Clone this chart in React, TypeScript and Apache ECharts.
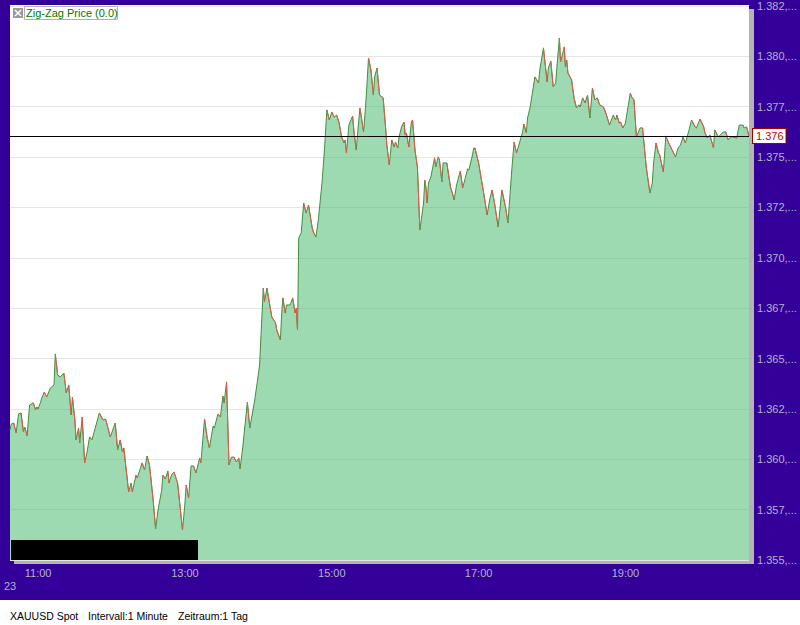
import React, { useEffect, useRef } from "react";
import * as echarts from "echarts";

// Zig-Zag pivots of XAUUSD Spot (1-minute interval)
const times: string[] = [
  "10:37","10:38","10:40","10:42","10:44","10:46","10:48","10:49","10:51","10:53","10:56","10:58","10:59",
  "11:00","11:02","11:03","11:05","11:07","11:10","11:12","11:13","11:14","11:16","11:18","11:21","11:23","11:25","11:27","11:28","11:30","11:31","11:33","11:34","11:36","11:38","11:40","11:42","11:44","11:50","11:53","11:55","11:56","11:59",
  "12:03","12:05","12:07","12:09","12:10","12:14","12:16","12:17","12:20","12:21","12:25","12:27","12:29","12:31","12:34","12:36","12:38","12:41","12:42","12:44","12:46","12:47","12:49","12:51","12:54","12:58",
  "13:00","13:01","13:03","13:05","13:07","13:09","13:12","13:13","13:16","13:18","13:20","13:23","13:24","13:27","13:29","13:31","13:32","13:34","13:36","13:38","13:40","13:42","13:44","13:45","13:47","13:51","13:53","13:57","13:59",
  "14:01","14:04","14:05","14:07","14:09","14:11","14:14","14:15","14:18","14:19","14:20","14:22","14:23","14:26","14:28","14:30","14:31","14:32","14:33","14:35","14:37","14:39","14:41","14:44","14:45","14:47","14:49","14:52","14:54","14:56","14:58",
  "15:00","15:02","15:04","15:06","15:08","15:10","15:11","15:12","15:14","15:17","15:18","15:20","15:21","15:23","15:26","15:28","15:30","15:32","15:34","15:35","15:37","15:38","15:39","15:42","15:44","15:45","15:47","15:49","15:51","15:52","15:54","15:55","15:57","15:59",
  "16:00","16:01","16:03","16:05","16:06","16:08","16:10","16:12","16:15","16:16","16:17","16:18","16:19","16:21","16:24","16:25","16:27","16:28","16:30","16:31","16:34","16:37","16:39","16:40","16:42","16:45","16:47","16:51","16:52","16:55","16:56","16:57",
  "17:00","17:04","17:07","17:09","17:11","17:13","17:16","17:19","17:22","17:24","17:27","17:29","17:31","17:36","17:37","17:39","17:40","17:42","17:45","17:46","17:49","17:50","17:53","17:56","17:57","17:59",
  "18:01","18:03","18:04","18:06","18:07","18:10","18:11","18:12","18:13","18:16","18:18","18:20","18:22","18:23","18:25","18:27","18:29","18:31","18:33","18:35","18:37","18:39","18:42","18:44","18:47","18:50","18:52","18:53","18:55","18:56","18:58",
  "19:00","19:02","19:04","19:05","19:07","19:09","19:12","19:14","19:17","19:20","19:22","19:23","19:25","19:27","19:28","19:31","19:33","19:35","19:37","19:39","19:41","19:43","19:45","19:47","19:49","19:52","19:54","19:57","19:58",
  "20:01","20:04","20:05","20:07","20:09","20:12","20:13","20:16","20:20","20:22","20:24","20:26","20:28","20:31","20:33","20:36","20:37","20:39","20:41",
];

const prices: number[] = [
  1361.45,1361.75,1361.80,1361.31,1362.25,1362.30,1361.36,1361.60,1361.16,1362.70,1362.80,1362.45,1362.60,
  1362.50,1362.84,1363.04,1363.34,1363.09,1363.54,1363.64,1363.69,1365.23,1364.18,1364.09,1364.28,1363.29,1363.69,1362.20,1363.09,1361.95,1360.96,1361.55,1360.81,1362.10,1359.82,1360.36,1361.11,1360.96,1362.30,1361.95,1362.00,1361.80,1361.11,
  1361.80,1360.46,1360.96,1360.36,1360.56,1358.38,1358.82,1358.38,1359.22,1359.07,1359.82,1359.47,1360.16,1359.72,1357.98,1356.54,1357.48,1358.48,1359.22,1359.02,1359.42,1358.82,1359.22,1359.37,1358.82,1356.49,
  1357.83,1358.72,1358.08,1359.67,1359.67,1359.32,1360.06,1359.82,1362.00,1361.11,1360.56,1361.65,1361.55,1362.25,1362.10,1363.14,1362.79,1363.84,1359.72,1360.11,1360.11,1359.87,1360.06,1359.52,1360.46,1362.84,1361.55,1362.94,1363.79,
  1364.68,1368.50,1367.81,1368.50,1367.76,1367.06,1366.77,1366.42,1365.92,1367.16,1368.01,1367.26,1367.66,1367.66,1368.01,1367.26,1367.51,1366.42,1370.99,1371.23,1372.72,1372.23,1372.62,1371.48,1371.28,1371.03,1371.88,1373.72,1375.35,1377.34,1376.84,
  1377.24,1376.99,1377.09,1376.69,1376.00,1375.70,1375.85,1375.20,1376.60,1377.04,1376.35,1375.35,1376.10,1377.44,1376.25,1377.84,1379.92,1379.33,1378.08,1378.98,1379.42,1378.73,1378.08,1377.94,1376.45,1375.60,1374.61,1375.85,1375.50,1375.75,1375.45,1376.00,1376.50,1376.74,
  1376.10,1376.20,1375.50,1376.74,1376.84,1375.35,1374.51,1371.38,1372.72,1373.86,1373.47,1372.72,1373.72,1374.01,1374.96,1374.51,1375.01,1374.86,1373.77,1374.71,1374.71,1373.52,1373.12,1372.87,1373.62,1374.31,1373.47,1374.41,1374.36,1375.11,1375.45,1375.45,
  1374.71,1373.27,1372.13,1372.87,1373.37,1372.72,1371.53,1373.37,1372.52,1371.73,1374.26,1375.75,1375.20,1376.25,1376.64,1376.20,1376.94,1377.44,1378.58,1378.98,1378.68,1379.32,1380.42,1378.73,1379.42,1379.77,
  1378.48,1378.68,1379.47,1380.91,1379.72,1380.47,1379.47,1379.82,1379.18,1378.83,1377.94,1377.44,1377.59,1377.49,1377.94,1377.69,1378.08,1376.94,1378.43,1377.84,1377.94,1377.59,1377.49,1377.19,1376.59,1377.09,1376.84,1377.09,1376.69,1376.74,1376.45,
  1376.69,1377.44,1378.18,1377.99,1377.84,1376.00,1376.45,1376.45,1374.51,1373.22,1373.72,1374.71,1375.70,1375.20,1375.11,1374.26,1376.05,1375.75,1375.50,1375.25,1375.01,1375.45,1375.60,1376.00,1375.70,1376.35,1376.84,1376.50,1376.45,
  1376.89,1376.50,1376.20,1375.95,1376.10,1375.45,1376.35,1376.00,1376.25,1376.25,1375.85,1376.00,1376.00,1375.95,1376.59,1376.59,1376.45,1376.50,1376.05,
];

const timeTicks: string[] = ["11:00", "13:00", "15:00", "17:00", "19:00"];
const axisStart = "10:37";
const axisEnd = "20:41";
const priceMin = 1355;
const priceMax = 1382.5;
const priceStep = 2.5;
const dayLabel = "23";
const legendText = "Zig-Zag Price (0.0)";
const footer: string[] = ["XAUUSD Spot", "Intervall:1 Minute", "Zeitraum:1 Tag"];

const toMin = (s: string) => {
  const [h, m] = s.split(":").map(Number);
  return h * 60 + m;
};
const fmtTime = (v: number) => {
  const h = Math.floor(v / 60);
  const m = Math.round(v % 60);
  return `${String(h).padStart(2, "0")}:${String(m).padStart(2, "0")}`;
};
const fmtThousands = (v: number) => {
  const f = Math.floor(v + 1e-9);
  return `${Math.floor(f / 1000)}.${String(f % 1000).padStart(3, "0")}`;
};

const FONT = "'Liberation Sans', Arial, sans-serif";
const LABEL = "#b4b4c8";
const PURPLE = "#330099";

export default function App() {
  const ref = useRef<HTMLDivElement>(null);
  useEffect(() => {
    if (!ref.current) return;
    const chart = echarts.init(ref.current, undefined, { renderer: "svg" });
    const pts = times.map((t, i) => [toMin(t), prices[i]]);
    const red: any[] = [];
    for (let i = 0; i < pts.length - 1; i++) {
      if (pts[i + 1][1] < pts[i][1]) {
        red.push(pts[i], pts[i + 1], [pts[i + 1][0], "-"]);
      }
    }
    const last = prices[prices.length - 1];
    chart.setOption({
      animation: false,
      backgroundColor: "#ffffff",
      textStyle: { fontFamily: FONT },
      grid: { left: 10, right: 51, top: 6, bottom: 65 },
      xAxis: {
        type: "value",
        min: toMin(axisStart),
        max: toMin(axisEnd),
        axisLine: { show: false },
        axisTick: { show: false },
        splitLine: { show: false },
        axisLabel: {
          customValues: timeTicks.map(toMin),
          formatter: (v: number) => fmtTime(v),
          color: LABEL,
          fontSize: 11,
          fontFamily: FONT,
          margin: 7,
        },
      },
      yAxis: {
        type: "value",
        position: "right",
        min: priceMin,
        max: priceMax,
        interval: priceStep,
        axisLine: { show: false },
        axisTick: { show: false },
        splitLine: { lineStyle: { color: "#e6e6e6", width: 1 } },
        axisLabel: {
          formatter: (v: number) => `${fmtThousands(v)},...`,
          color: LABEL,
          fontSize: 11,
          fontFamily: FONT,
          margin: 8,
        },
      },
      graphic: {
        elements: [
          { type: "rect", z: -100, shape: { x: 0, y: 0, width: 800, height: 600 }, style: { fill: PURPLE } },
          { type: "rect", z: -99, shape: { x: 14, y: 9, width: 740, height: 555 }, style: { fill: "#b4b4b4" } },
          { type: "rect", z: -98, shape: { x: 10, y: 5, width: 739, height: 555 }, style: { fill: "#ffffff" } },
          { type: "rect", z: 100, shape: { x: 11, y: 540, width: 187, height: 20 }, style: { fill: "#000000" } },
          { type: "rect", z: 100, shape: { x: 13, y: 8, width: 10, height: 10 }, style: { fill: "#9a9a9a" } },
          { type: "line", z: 101, shape: { x1: 15, y1: 10, x2: 21, y2: 16 }, style: { stroke: "#ffffff", lineWidth: 1.5 } },
          { type: "line", z: 101, shape: { x1: 21, y1: 10, x2: 15, y2: 16 }, style: { stroke: "#ffffff", lineWidth: 1.5 } },
          { type: "rect", z: 100, shape: { x: 24.5, y: 6.5, width: 93, height: 13 }, style: { fill: "#ffffff", stroke: "#b0b0b0", lineWidth: 1 } },
          { type: "text", z: 101, x: 26, y: 13, style: { text: legendText, fill: "#007800", font: `11px ${FONT}`, textVerticalAlign: "middle" } },
          { type: "text", z: 100, x: 4, y: 586, style: { text: dayLabel, fill: LABEL, font: `11px ${FONT}`, textVerticalAlign: "middle" } },
          { type: "text", z: 100, x: 10, y: 616, style: { text: footer[0], fill: "#000000", font: `10.5px ${FONT}`, textVerticalAlign: "middle" } },
          { type: "text", z: 100, x: 88, y: 616, style: { text: footer[1], fill: "#000000", font: `10.5px ${FONT}`, textVerticalAlign: "middle" } },
          { type: "text", z: 100, x: 178, y: 616, style: { text: footer[2], fill: "#000000", font: `10.5px ${FONT}`, textVerticalAlign: "middle" } },
        ],
      },
      series: [
        {
          type: "line",
          data: pts,
          showSymbol: false,
          symbol: "none",
          z: 2,
          lineStyle: { color: "#3f8f3f", width: 1 },
          areaStyle: { color: "rgba(60,180,100,0.5)", opacity: 1 },
          markLine: {
            silent: true,
            symbol: "none",
            data: [{ yAxis: last }],
            lineStyle: { color: "#000000", width: 1, type: "solid" },
            label: {
              position: "end",
              distance: 4,
              formatter: () => fmtThousands(last),
              backgroundColor: "#ffffff",
              borderColor: "#a00000",
              borderWidth: 1,
              padding: [2, 2, 1, 3],
              color: "#cc0000",
              fontSize: 11,
              fontFamily: FONT,
            },
            emphasis: { disabled: true },
          },
        },
        {
          type: "line",
          data: red,
          showSymbol: false,
          symbol: "none",
          z: 3,
          connectNulls: false,
          lineStyle: { color: "#e8584a", width: 1 },
        },
      ],
    });
    return () => chart.dispose();
  }, []);
  return (
    <div
      ref={ref}
      style={{ position: "fixed", left: 0, top: 0, width: 800, height: 625 }}
    />
  );
}
